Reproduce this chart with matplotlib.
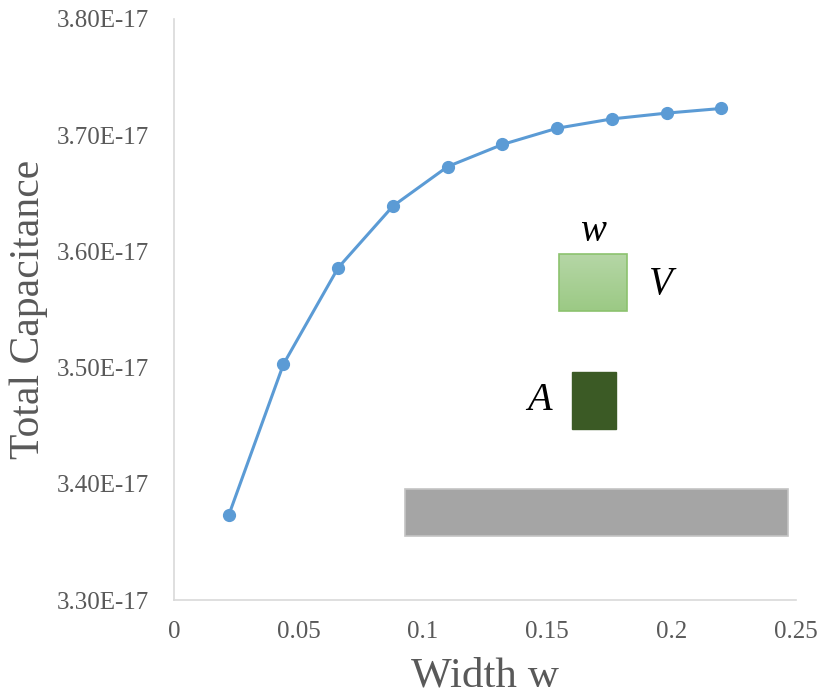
import numpy as np
import matplotlib
matplotlib.use('Agg')
import matplotlib.pyplot as plt
from matplotlib.patches import Rectangle

# Total capacitance versus wire width
width_w = [0.022, 0.044, 0.066, 0.088, 0.110, 0.132, 0.154, 0.176, 0.198, 0.220]
capacitance = [3.373e-17, 3.503e-17, 3.586e-17, 3.639e-17, 3.673e-17,
               3.692e-17, 3.706e-17, 3.714e-17, 3.719e-17, 3.723e-17]
x_ticks = [0, 0.05, 0.1, 0.15, 0.2, 0.25]
x_tick_labels = ['0', '0.05', '0.1', '0.15', '0.2', '0.25']
y_ticks = [3.30e-17, 3.40e-17, 3.50e-17, 3.60e-17, 3.70e-17, 3.80e-17]
y_tick_labels = ['3.30E-17', '3.40E-17', '3.50E-17', '3.60E-17', '3.70E-17', '3.80E-17']

plt.rcParams['font.family'] = ['Liberation Serif', 'DejaVu Serif']
text_grey = '#595959'

fig = plt.figure(figsize=(8.24, 6.98), dpi=100)
ax = fig.add_axes([0.2112, 0.1404, 0.7548, 0.8324])

ax.plot(width_w, capacitance, color='#5B9BD5', linewidth=2.2,
        marker='o', markersize=8.5, zorder=3)

ax.set_xlim(0, 0.25)
ax.set_ylim(3.30e-17, 3.80e-17)
ax.set_xticks(x_ticks)
ax.set_xticklabels(x_tick_labels)
ax.set_yticks(y_ticks)
ax.set_yticklabels(y_tick_labels)
ax.tick_params(axis='both', length=0, labelsize=18, labelcolor=text_grey)
ax.tick_params(axis='y', pad=18)
ax.tick_params(axis='x', pad=15)

for side in ['top', 'right']:
    ax.spines[side].set_visible(False)
for side in ['left', 'bottom']:
    ax.spines[side].set_color('#d9d9d9')
    ax.spines[side].set_linewidth(1.2)

ax.set_xlabel('Width w', fontsize=31, color=text_grey, labelpad=10)
ax.set_ylabel('Total Capacitance', fontsize=30, color=text_grey, labelpad=6)

# cross-section sketch: via (light green, gradient), wire (dark green), substrate (grey)
tr = ax.transAxes
grad = np.linspace(0, 1, 64).reshape(-1, 1)
top_c = np.array([0.71, 0.84, 0.65])
bot_c = np.array([0.61, 0.79, 0.52])
img = top_c[None, None, :] * (1 - grad[:, :, None]) + bot_c[None, None, :] * grad[:, :, None]
vx0, vx1, vy0, vy1 = 0.619, 0.728, 0.497, 0.595
ax.imshow(img, extent=[vx0, vx1, vy0, vy1], transform=tr, aspect='auto',
          origin='upper', zorder=2)
ax.add_patch(Rectangle((vx0, vy0), vx1 - vx0, vy1 - vy0, transform=tr,
                       facecolor='none', edgecolor='#8cc26e', linewidth=1.2, zorder=2))
ax.set_xlim(0, 0.25)
ax.set_ylim(3.30e-17, 3.80e-17)

ax.add_patch(Rectangle((0.640, 0.294), 0.071, 0.098, transform=tr,
                       facecolor='#3B5A25', edgecolor='#3B5A25', zorder=2))
ax.add_patch(Rectangle((0.371, 0.110), 0.616, 0.081, transform=tr,
                       facecolor='#A5A5A5', edgecolor='#c4c4c4', linewidth=1.2, zorder=2))

ax.text(0.673, 0.635, 'w', transform=tr, fontsize=28, style='italic',
        ha='center', va='center', color='black')
ax.text(0.783, 0.543, 'V', transform=tr, fontsize=28, style='italic',
        ha='center', va='center', color='black')
ax.text(0.588, 0.344, 'A', transform=tr, fontsize=29, style='italic',
        ha='center', va='center', color='black')

fig.savefig('out.png', dpi=100)
